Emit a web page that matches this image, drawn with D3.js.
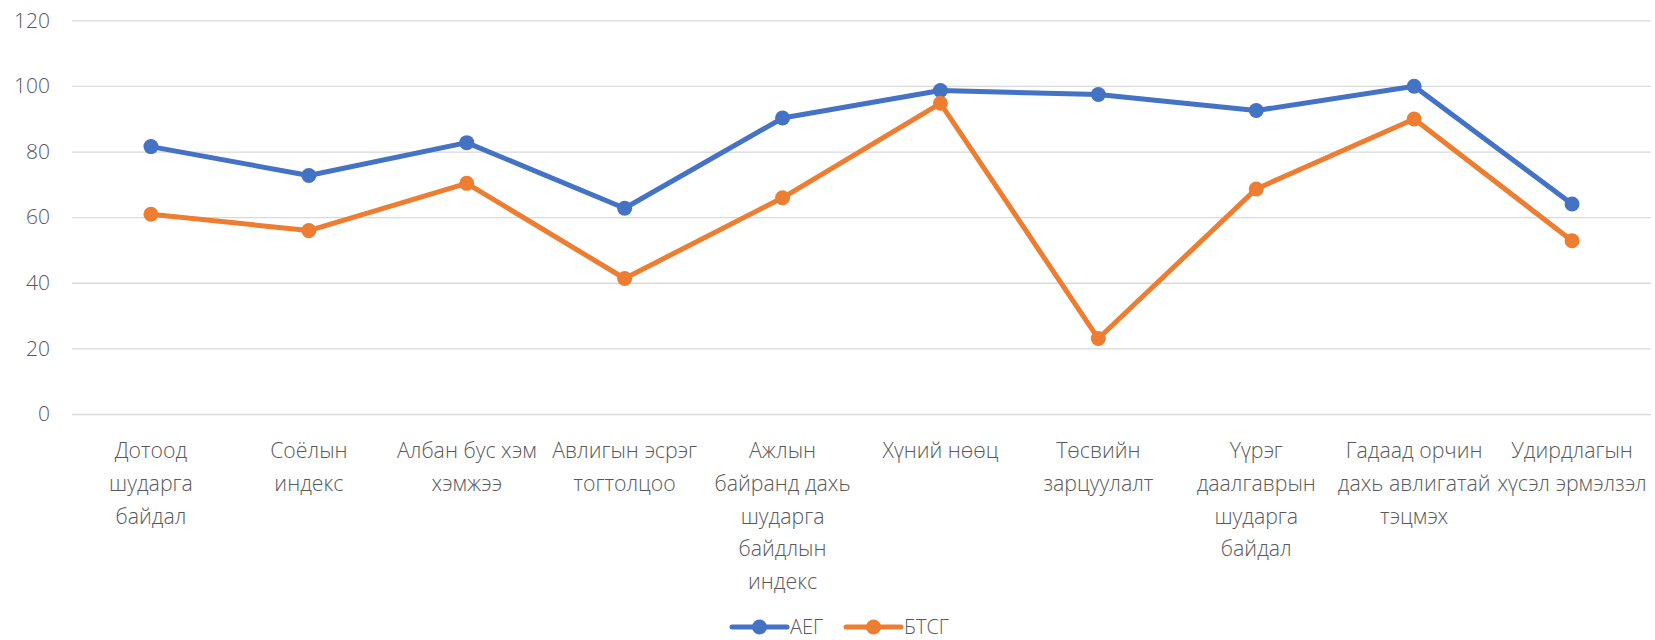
<!DOCTYPE html>
<html>
<head>
<meta charset="utf-8">
<script src="https://cdn.jsdelivr.net/npm/d3@7"></script>
<style>
  html, body { margin: 0; padding: 0; background: #fff; }
  svg { display: block; }
  text { font-family: "Open Sans", "Noto Sans", sans-serif; font-weight: 300; fill: #595959; }
</style>
</head>
<body>
<svg id="chart" width="1655" height="640"></svg>
<script>
const categories = [
  "Дотоод\nшударга\nбайдал",
  "Соёлын\nиндекс",
  "Албан бус хэм\nхэмжээ",
  "Авлигын эсрэг\nтогтолцоо",
  "Ажлын\nбайранд дахь\nшударга\nбайдлын\nиндекс",
  "Хүний нөөц",
  "Төсвийн\nзарцуулалт",
  "Үүрэг\nдаалгаврын\nшударга\nбайдал",
  "Гадаад орчин\nдахь авлигатай\nтэцмэх",
  "Удирдлагын\nхүсэл эрмэлзэл"
];
const seriesNames = ["АЕГ", "БТСГ"];
const aegValues  = [81.5, 72.7, 82.7, 62.7, 90.2, 98.6, 97.4, 92.5, 99.9, 64.0];
const btsgValues = [60.9, 55.9, 70.3, 41.3, 65.9, 94.7, 23.0, 68.6, 89.9, 52.8];
const yTicks = [0, 20, 40, 60, 80, 100, 120];
const colors = ["#4472C4", "#ED7D31"];

const svg = d3.select("#chart");
const plotLeft = 72, plotRight = 1651, plotTop = 20.3, plotBottom = 414;

const x = d3.scaleBand().domain(categories).range([plotLeft, plotRight]).paddingInner(0).paddingOuter(0);
const y = d3.scaleLinear().domain([0, 120]).range([plotBottom, plotTop]);
const cx = c => x(c) + x.bandwidth() / 2;

// gridlines
const grid = svg.append("g").attr("transform", `translate(${plotLeft},0)`)
  .call(d3.axisLeft(y).tickValues(yTicks).tickSize(-(plotRight - plotLeft)).tickFormat(""));
grid.select(".domain").remove();
grid.selectAll(".tick line").attr("stroke", "#D9D9D9").attr("stroke-width", 1.3);

// y labels
const yAx = svg.append("g").attr("transform", `translate(50,0)`)
  .call(d3.axisLeft(y).tickValues(yTicks).tickSize(0).tickPadding(0));
yAx.select(".domain").remove();
yAx.selectAll(".tick text").attr("font-size", 21).attr("fill", "#595959")
  .style("font-family", '"Open Sans", "Noto Sans", sans-serif').style("font-weight", 300);

// x labels
const xAx = svg.append("g").attr("transform", `translate(0,${plotBottom})`)
  .call(d3.axisBottom(x).tickSize(0).tickFormat(""));
xAx.select(".domain").remove();
xAx.selectAll(".tick").each(function(d) {
  const lines = d.split("\n");
  const t = d3.select(this).append("text")
    .attr("text-anchor", "middle").attr("font-size", 21.3).attr("fill", "#595959")
    .attr("y", 44);
  lines.forEach((ln, i) => {
    t.append("tspan").attr("x", 0).attr("dy", i === 0 ? 0 : 32.8).text(ln);
  });
});

// series
const data = [aegValues, btsgValues];
const line = d3.line().x((d, i) => cx(categories[i])).y(d => y(d));
data.forEach((vals, si) => {
  svg.append("path").datum(vals).attr("d", line)
    .attr("fill", "none").attr("stroke", colors[si]).attr("stroke-width", 5)
    .attr("stroke-linejoin", "round").attr("stroke-linecap", "round");
  svg.append("g").selectAll("circle").data(vals).join("circle")
    .attr("cx", (d, i) => cx(categories[i])).attr("cy", d => y(d)).attr("r", 7.5)
    .attr("fill", colors[si]);
});

// legend
const legendY = 627;
const legendItems = [{x: 732, name: seriesNames[0], c: colors[0]}, {x: 846, name: seriesNames[1], c: colors[1]}];
const lg = svg.append("g");
legendItems.forEach(it => {
  lg.append("line").attr("x1", it.x).attr("x2", it.x + 55).attr("y1", legendY).attr("y2", legendY)
    .attr("stroke", it.c).attr("stroke-width", 5).attr("stroke-linecap", "round");
  lg.append("circle").attr("cx", it.x + 27.5).attr("cy", legendY).attr("r", 7.5).attr("fill", it.c);
  lg.append("text").attr("x", it.x + 58).attr("y", legendY).attr("dy", "0.35em")
    .attr("font-size", 20).attr("fill", "#595959").text(it.name);
});
</script>
</body>
</html>
